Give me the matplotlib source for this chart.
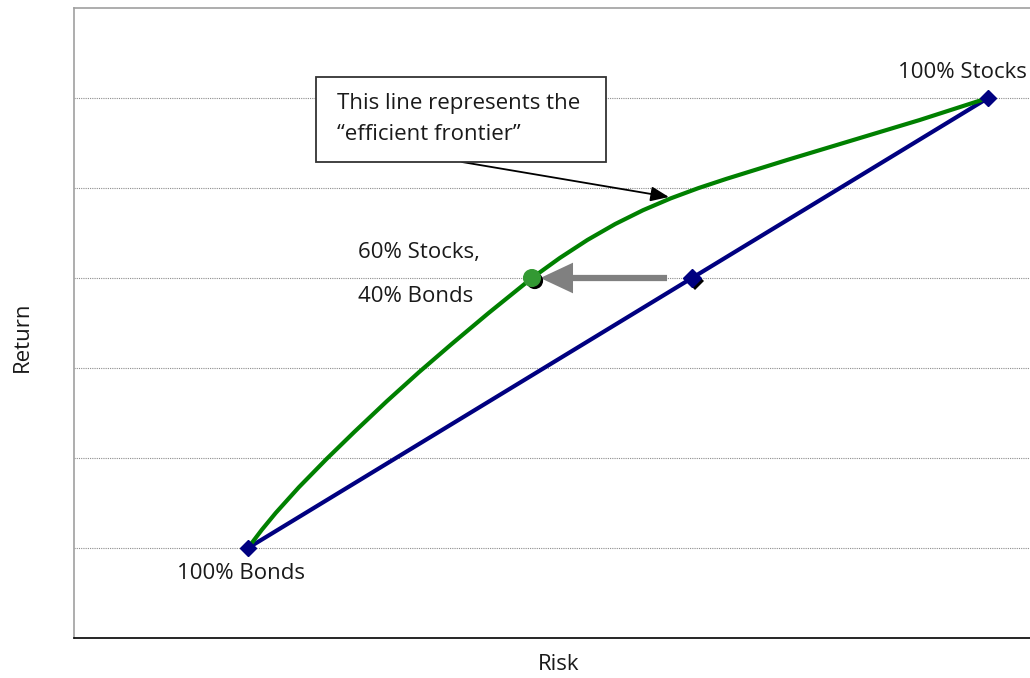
import matplotlib
matplotlib.use('Agg')
import matplotlib.pyplot as plt
import matplotlib.patheffects as pe
from matplotlib.patches import Rectangle

plt.rcParams['font.family'] = ['Open Sans', 'DejaVu Sans']

# portfolio end points and the 60/40 mix
bond_point = (2.0, 1.0)
stock_point = (10.0, 6.0)
mix_straight = (6.8, 4.0)
mix_frontier = (5.07, 4.0)

# efficient frontier (risk, return)
frontier_risk = [2.00, 2.15, 2.30, 2.55, 2.85, 3.15, 3.50, 3.85, 4.20, 4.60, 5.07,
                 5.37, 5.67, 5.97, 6.27, 6.57, 6.87, 7.17, 7.83, 8.54, 9.26, 10.00]
frontier_return = [1.000, 1.203, 1.390, 1.675, 1.990, 2.290, 2.630, 2.955, 3.265, 3.610, 4.000,
                   4.222, 4.423, 4.600, 4.753, 4.885, 4.999, 5.101, 5.312, 5.532, 5.755, 6.000]

grid_levels = [1, 2, 3, 4, 5, 6]

W, H = 1030, 678
fig = plt.figure(figsize=(W / 100, H / 100), dpi=100)
fig.patch.set_facecolor('white')
ax = fig.add_axes([74 / W, 40 / H, (1045 - 74) / W, 630 / H])
ax.set_xlim(0.119, 10.616)
ax.set_ylim(0, 7)
ax.set_xticks([])
ax.set_yticks([])
for y in grid_levels:
    ax.axhline(y, color='#8c8c8c', lw=0.8, ls=(0, (1, 1)), zorder=1)
ax.spines['right'].set_visible(False)
ax.spines['left'].set_color('#a0a0a0')
ax.spines['top'].set_color('#a0a0a0')
ax.spines['bottom'].set_color('black')
for s in ('left', 'top', 'bottom'):
    ax.spines[s].set_linewidth(1.2)

navy = '#000080'
green = '#008000'
ink = '#1a1a1a'
fs = 16

# straight bonds-stocks line
ax.plot([bond_point[0], stock_point[0]], [bond_point[1], stock_point[1]],
        color=navy, lw=3, zorder=3, solid_capstyle='round')
# efficient frontier
ax.plot(frontier_risk, frontier_return, color=green, lw=3, zorder=3,
        solid_joinstyle='round', solid_capstyle='round')

ax.plot([bond_point[0], stock_point[0]], [bond_point[1], stock_point[1]],
        ls='none', marker='D', ms=8, color=navy, zorder=5)
shadow = [pe.SimplePatchShadow(offset=(2, -2), shadow_rgbFace='black', alpha=1), pe.Normal()]
ax.plot(*mix_straight, marker='D', ms=9, color=navy, zorder=5, path_effects=shadow)
ax.plot(*mix_frontier, marker='o', ms=12, color='#339933', mec='#339933', zorder=6,
        path_effects=shadow)

# shift arrow from the straight line to the frontier
ax.annotate('', xy=(mix_frontier[0] + 0.09, 4.0), xytext=(6.53, 4.0),
            arrowprops=dict(arrowstyle='-|>,head_length=1.6,head_width=0.75',
                            color='#808080', lw=4.5, shrinkA=0, shrinkB=0,
                            capstyle='butt', joinstyle='miter'), zorder=4)

# callout box with its pointer to the frontier
fig.add_artist(Rectangle((316 / W, 1 - 162 / H), 290 / W, 85 / H, transform=fig.transFigure,
                         fc='white', ec='#333333', lw=1.3, zorder=7))
fig.text(337 / W, 1 - 103 / H, 'This line represents the', fontsize=fs, color=ink,
         ha='left', va='center', zorder=8)
fig.text(337 / W, 1 - 135 / H, '\u201cefficient frontier\u201d', fontsize=fs, color=ink,
         ha='left', va='center', zorder=8)
ax.annotate('', xy=(6.55, 4.90), xytext=(462 / W, 1 - 162 / H), textcoords='figure fraction',
            arrowprops=dict(arrowstyle='-|>,head_length=1.1,head_width=0.45', color='black',
                            lw=1.3, shrinkA=0, shrinkB=0), zorder=7)

ax.text(9.027, 6.28, '100% Stocks', fontsize=fs, color=ink, ha='left', va='center', zorder=7)
ax.text(1.232, 0.72, '100% Bonds', fontsize=fs, color=ink, ha='left', va='center', zorder=7)
ax.text(3.189, 4.28, '60% Stocks,', fontsize=fs, color=ink, ha='left', va='center', zorder=7)
ax.text(3.189, 3.80, '40% Bonds', fontsize=fs, color=ink, ha='left', va='center', zorder=7)

fig.text(559 / W, 1 - 665 / H, 'Risk', fontsize=fs, color=ink, ha='center', va='center')
fig.text(22 / W, 1 - 337 / H, 'Return', fontsize=fs, color=ink, ha='center',
         va='center', rotation=90)

fig.savefig('out.png', dpi=100)
